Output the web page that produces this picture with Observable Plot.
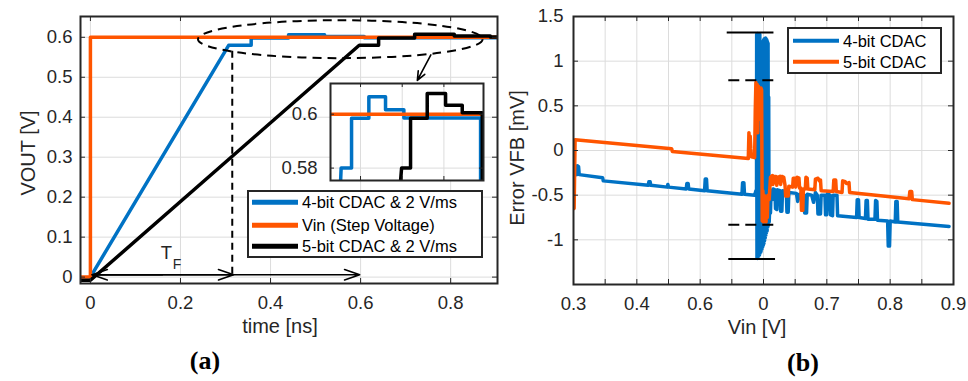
<!DOCTYPE html>
<html><head><meta charset="utf-8">
<script src="https://cdn.jsdelivr.net/npm/d3@7"></script>
<script src="https://cdn.jsdelivr.net/npm/@observablehq/plot@0.6"></script>
<style>
html,body{margin:0;padding:0;background:#fff;}
#root{position:relative;width:968px;height:381px;overflow:hidden;font-family:"Liberation Sans",Arial,sans-serif;color:#262626;background:#fff;}
.pl{position:absolute;}
.lbl{position:absolute;font-size:20px;white-space:nowrap;transform:translate(-50%,-50%);line-height:1;color:#262626;}
.rot{transform:translate(-50%,-50%) rotate(-90deg);}
.panel{position:absolute;font-family:"Liberation Serif","Times New Roman",serif;font-weight:bold;font-size:26px;transform:translate(-50%,-50%);line-height:1;color:#000;white-space:nowrap;}
.legend{position:absolute;background:#fff;border:2px solid #262626;box-sizing:border-box;}
.legend .sw{position:absolute;height:4.5px;transform:translateY(-50%);}
.legend .tx{position:absolute;font-size:16.5px;white-space:nowrap;line-height:1;transform:translateY(-50%);color:#000;}
</style></head><body><div id="root"></div>
<script>
// ---------- colours ----------
const BLUE = "#0072C4", ORANGE = "#FF5500", BLACK = "#000000", GRID = "#dcdcdc", AXIS = "#262626";

// ---------- panel (a) ----------
const aXTicks = [0, 0.2, 0.4, 0.6, 0.8];
const aXLabels = ["0", "0.2", "0.4", "0.6", "0.8"];
const aYTicks = [0, 0.1, 0.2, 0.3, 0.4, 0.5, 0.6];
const aYLabels = ["0", "0.1", "0.2", "0.3", "0.4", "0.5", "0.6"];

const blueT = [0, 0.307, 0.357, 0.357, 0.44, 0.44, 0.52, 0.52, 0.608, 0.608, 0.976, 0.976];
const blueV = [0, 0.58, 0.58, 0.5985, 0.5985, 0.6065, 0.6065, 0.6017, 0.6017, 0.5986, 0.5986, 0.55];
const vinT = [-0.022, 0, 0, 1.0];
const vinV = [0, 0, 0.6, 0.6];
const blackT = [-0.022, 0, 0.597, 0.64, 0.64, 0.72, 0.72, 0.808, 0.808, 0.888, 0.888, 0.984, 0.984];
const blackV = [-0.008, -0.008, 0.58, 0.58, 0.5985, 0.5985, 0.6077, 0.6077, 0.6033, 0.6033, 0.6005, 0.6005, 0.55];

const legendA = ["4-bit CDAC & 2 V/ms", "Vin (Step Voltage)", "5-bit CDAC & 2 V/ms"];

// annotations of panel (a)
const zoomEllipse = [{cx: 0.556, cy: 0.594, rx: 0.316, ry: 0.0475}];
const tfArrows = [
  {x1: 0.16, y1: 0.006, x2: 0.004, y2: 0.006},
  {x1: 0.004, y1: 0.006, x2: 0.318, y2: 0.006},
  {x1: 0.004, y1: 0.006, x2: 0.598, y2: 0.006}
];
const zoomArrow = [{x1: 0.756, y1: 0.556, x2: 0.726, y2: 0.492}];
const tfMarker = [{x: 0.315, y1: 0.565, y2: 0.005}];

// inset of panel (a)
const insetXTicks = [0.4, 0.6, 0.8];
const insetYTicks = [0.58, 0.6];
const insetYLabels = ["0.58", "0.6"];

// ---------- panel (b) ----------
const bXTicks = [0.3, 0.35, 0.4, 0.45, 0.5, 0.55, 0.6, 0.65, 0.7, 0.75, 0.8, 0.85, 0.9];
const bXLabelVals = [0.3, 0.4, 0.5, 0.6, 0.7, 0.8, 0.9];
const bXLabels = ["0.3", "0.4", "0.6", "0", "0.7", "0.8", "0.9"];
const bYTicks = [-1.5, -1, -0.5, 0, 0.5, 1, 1.5];
const bYLabelVals = [-1, -0.5, 0, 0.5, 1, 1.5];
const bYLabels = ["-1", "-0.5", "0", "0.5", "1", "1.5"];

const cdac4 = [
  [0.300,-0.26],[0.305,-0.27],[0.306,-0.17],[0.308,-0.18],[0.309,-0.27],[0.346,-0.305],[0.347,-0.34],
  [0.418,-0.39],[0.419,-0.35],[0.421,-0.35],[0.422,-0.39],[0.448,-0.41],[0.449,-0.38],[0.450,-0.41],
  [0.478,-0.43],[0.479,-0.37],[0.481,-0.37],[0.482,-0.43],[0.507,-0.45],[0.508,-0.32],[0.510,-0.32],
  [0.511,-0.45],[0.566,-0.49],[0.567,-0.36],[0.569,-0.36],[0.570,-0.49],[0.586,-0.50],[0.588,-0.45],
  [0.5890,-0.50],[0.5892,1.30],[0.5897,-1.20],[0.5902,1.31],[0.5907,-1.21],[0.5912,1.28],[0.5917,-1.19],
  [0.5922,1.30],[0.5927,-1.18],[0.5932,1.29],[0.5937,-1.17],[0.5942,1.30],[0.5947,-1.15],[0.5952,1.22],
  [0.5957,-1.14],[0.5962,1.10],[0.5967,-1.12],[0.5972,1.05],[0.5977,-1.10],[0.5982,1.12],[0.5987,-1.08],
  [0.5992,1.20],[0.5997,-1.06],[0.6002,1.24],[0.6007,-1.04],[0.6012,1.25],[0.6017,-1.01],[0.6022,1.24],
  [0.6027,-0.98],[0.6032,1.26],[0.6037,-0.95],[0.6042,1.25],[0.6047,-0.92],[0.6052,1.24],[0.6057,-0.90],
  [0.6062,1.22],[0.6067,-0.86],[0.6072,1.20],[0.6077,-0.84],[0.6082,0.60],[0.6087,-0.80],[0.6090,-0.80],
  [0.610,-0.60],[0.611,-0.70],[0.612,-0.45],[0.614,-0.55],[0.615,-0.43],[0.618,-0.44],[0.619,-0.65],
  [0.621,-0.66],[0.622,-0.44],[0.626,-0.45],[0.627,-0.68],[0.629,-0.68],[0.630,-0.45],[0.636,-0.46],
  [0.637,-0.69],[0.639,-0.69],[0.640,-0.47],[0.652,-0.48],[0.654,-0.57],[0.657,-0.49],[0.664,-0.50],
  [0.665,-0.70],[0.668,-0.70],[0.669,-0.49],[0.676,-0.50],[0.679,-0.58],[0.682,-0.47],[0.685,-0.50],
  [0.686,-0.71],[0.690,-0.71],[0.691,-0.50],[0.697,-0.50],[0.698,-0.72],[0.700,-0.72],[0.701,-0.48],
  [0.705,-0.50],[0.706,-0.72],[0.709,-0.73],[0.710,-0.50],[0.716,-0.50],[0.717,-0.73],[0.747,-0.75],
  [0.748,-0.55],[0.750,-0.55],[0.751,-0.75],[0.761,-0.76],[0.762,-0.56],[0.764,-0.56],[0.765,-0.77],
  [0.776,-0.77],[0.777,-0.56],[0.779,-0.57],[0.780,-0.78],[0.796,-0.79],[0.797,-1.07],[0.799,-1.07],
  [0.800,-0.79],[0.808,-0.80],[0.809,-0.57],[0.811,-0.57],[0.812,-0.80],[0.893,-0.85]
];
const cdac5 = [
  [0.300,-0.62],[0.301,-0.65],[0.3025,0.12],[0.455,0.02],[0.456,-0.01],[0.576,-0.09],[0.577,0.20],
  [0.578,0.05],[0.579,0.16],[0.580,0.02],[0.581,-0.07],[0.586,-0.08],[0.587,0.45],[0.588,0.76],
  [0.589,0.30],[0.590,0.74],[0.591,0.20],[0.592,0.72],[0.593,0.50],[0.594,0.70],[0.595,0.35],
  [0.596,0.70],[0.597,0.68],[0.598,-0.79],[0.599,-0.45],[0.600,-0.80],[0.601,-0.50],[0.602,-0.78],
  [0.603,-0.55],[0.604,-0.80],[0.605,-0.52],[0.606,-0.75],[0.607,-0.50],[0.609,-0.55],[0.611,-0.30],
  [0.614,-0.28],[0.615,-0.38],[0.617,-0.29],[0.620,-0.29],[0.621,-0.39],[0.623,-0.30],[0.626,-0.29],
  [0.627,-0.38],[0.629,-0.29],[0.632,-0.30],[0.634,-0.39],[0.635,-0.51],[0.639,-0.51],[0.640,-0.40],
  [0.646,-0.41],[0.647,-0.31],[0.650,-0.31],[0.651,-0.41],[0.653,-0.30],[0.656,-0.31],[0.657,-0.42],
  [0.659,-0.42],[0.660,-0.67],[0.662,-0.67],[0.663,-0.43],[0.666,-0.43],[0.667,-0.30],[0.669,-0.31],
  [0.670,-0.43],[0.681,-0.44],[0.682,-0.32],[0.686,-0.31],[0.688,-0.34],[0.690,-0.33],[0.691,-0.45],
  [0.710,-0.46],[0.711,-0.33],[0.714,-0.33],[0.715,-0.46],[0.724,-0.47],[0.725,-0.34],[0.729,-0.35],
  [0.731,-0.37],[0.735,-0.36],[0.736,-0.47],[0.830,-0.54],[0.831,-0.46],[0.834,-0.46],[0.835,-0.55],
  [0.893,-0.59]
];
const legendB = ["4-bit CDAC", "5-bit CDAC"];
const errLines = [
  {y: 1.32, x1: 0.5427, x2: 0.6165, dashed: false},
  {y: 0.785, x1: 0.5452, x2: 0.619, dashed: true},
  {y: -0.83, x1: 0.5452, x2: 0.619, dashed: true},
  {y: -1.215, x1: 0.5452, x2: 0.619, dashed: false}
];

// ---------- helpers ----------
const rows = (t, v) => t.map((d, i) => ({t: d, v: v[i]}));
const pairs = (a) => a.map(([t, v]) => ({t, v}));
const fmt = (vals, labels) => { const m = new Map(vals.map((d, i) => [d, labels[i]])); return d => m.get(d); };
const FONT = "'Liberation Sans', Arial, sans-serif";
const baseStyle = {fontFamily: FONT, fontSize: "18.5px", color: AXIS, background: "transparent", overflow: "visible"};
const LW = 3.5;

function boxTicks(xt, yt, innerW, innerH, len) {
  return [
    Plot.tickX(xt, {x: d => d, insetTop: innerH - len, stroke: AXIS, strokeWidth: 1}),
    Plot.tickX(xt, {x: d => d, insetBottom: innerH - len, stroke: AXIS, strokeWidth: 1}),
    Plot.tickY(yt, {y: d => d, insetRight: innerW - len, stroke: AXIS, strokeWidth: 1}),
    Plot.tickY(yt, {y: d => d, insetLeft: innerW - len, stroke: AXIS, strokeWidth: 1})
  ];
}

const root = document.getElementById("root");
function place(node, left, top) { node.style.position = "absolute"; node.style.left = left + "px"; node.style.top = top + "px"; root.appendChild(node); }

// ---------- chart (a) ----------
const A = {width: 500, height: 330, ml: 80, mr: 3, mt: 16, mb: 47};
const aIW = A.width - A.ml - A.mr, aIH = A.height - A.mt - A.mb;
const ellipseMark = (index, scales) => {
  const g = d3.create("svg:g");
  zoomEllipse.forEach(e => {
    const cx = scales.x(e.cx), cy = scales.y(e.cy);
    g.append("ellipse").attr("cx", cx).attr("cy", cy)
      .attr("rx", Math.abs(scales.x(e.cx + e.rx) - cx))
      .attr("ry", Math.abs(scales.y(e.cy + e.ry) - cy))
      .attr("fill", "none").attr("stroke", BLACK).attr("stroke-width", 2).attr("stroke-dasharray", "9,6");
  });
  return g.node();
};
const chartA = Plot.plot({
  width: A.width, height: A.height,
  marginLeft: A.ml, marginRight: A.mr, marginTop: A.mt, marginBottom: A.mb,
  x: {domain: [-0.022, 0.904]},
  y: {domain: [-0.016, 0.652]},
  style: baseStyle,
  marks: [
    Plot.ruleX(aXTicks, {stroke: GRID, strokeWidth: 1}),
    Plot.ruleY(aYTicks, {stroke: GRID, strokeWidth: 1}),
    Plot.axisX(aXTicks, {tickSize: 0, tickPadding: 12, tickFormat: fmt(aXTicks, aXLabels), label: null, fill: AXIS}),
    Plot.axisY(aYTicks, {tickSize: 0, tickPadding: 8, tickFormat: fmt(aYTicks, aYLabels), label: null, fill: AXIS}),
    Plot.line(rows(blueT, blueV), {x: "t", y: "v", stroke: BLUE, strokeWidth: LW, clip: true}),
    Plot.line(rows(vinT, vinV), {x: "t", y: "v", stroke: ORANGE, strokeWidth: LW, clip: true}),
    Plot.line(rows(blackT, blackV), {x: "t", y: "v", stroke: BLACK, strokeWidth: LW, clip: true}),
    Plot.ruleX(tfMarker, {x: "x", y1: "y1", y2: "y2", stroke: BLACK, strokeWidth: 2, strokeDasharray: "7,5"}),
    Plot.arrow(tfArrows, {x1: "x1", y1: "y1", x2: "x2", y2: "y2", stroke: BLACK, strokeWidth: 1.6, headLength: 15, headAngle: 38}),
    ellipseMark,
    Plot.arrow(zoomArrow, {x1: "x1", y1: "y1", x2: "x2", y2: "y2", stroke: BLACK, strokeWidth: 1.6, headLength: 12, headAngle: 45}),
    ...boxTicks(aXTicks, aYTicks, aIW, aIH, 5),
    Plot.frame({stroke: AXIS, strokeWidth: 2})
  ]
});
place(chartA, 0, 0);

// inset
const I = {width: 220, height: 120, ml: 60, mr: 7, mt: 13, mb: 10};
const iIW = I.width - I.ml - I.mr, iIH = I.height - I.mt - I.mb;
const inset = Plot.plot({
  width: I.width, height: I.height,
  marginLeft: I.ml, marginRight: I.mr, marginTop: I.mt, marginBottom: I.mb,
  x: {domain: [0.256, 0.99], axis: null},
  y: {domain: [0.5754, 0.6114]},
  style: baseStyle,
  marks: [
    Plot.frame({fill: "white", stroke: "none"}),
    Plot.ruleX(insetXTicks, {stroke: GRID, strokeWidth: 1}),
    Plot.ruleY(insetYTicks, {stroke: GRID, strokeWidth: 1}),
    Plot.axisY(insetYTicks, {tickSize: 0, tickPadding: 13, tickFormat: fmt(insetYTicks, insetYLabels), label: null, fill: AXIS}),
    Plot.line(rows(blueT, blueV), {x: "t", y: "v", stroke: BLUE, strokeWidth: LW, clip: true}),
    Plot.line(rows(vinT, vinV), {x: "t", y: "v", stroke: ORANGE, strokeWidth: LW, clip: true}),
    Plot.line(rows(blackT, blackV), {x: "t", y: "v", stroke: BLACK, strokeWidth: LW, clip: true}),
    ...boxTicks(insetXTicks, insetYTicks, iIW, iIH, 4),
    Plot.frame({stroke: AXIS, strokeWidth: 2})
  ]
});
place(inset, 270, 70);

// ---------- chart (b) ----------
const B = {width: 468, height: 330, ml: 73, mr: 15, mt: 16, mb: 46};
const bIW = B.width - B.ml - B.mr, bIH = B.height - B.mt - B.mb;
const chartB = Plot.plot({
  width: B.width, height: B.height,
  marginLeft: B.ml, marginRight: B.mr, marginTop: B.mt, marginBottom: B.mb,
  x: {domain: [0.3, 0.9]},
  y: {domain: [-1.5, 1.5]},
  style: baseStyle,
  marks: [
    Plot.ruleX(bXTicks, {stroke: GRID, strokeWidth: 1}),
    Plot.ruleY(bYTicks, {stroke: GRID, strokeWidth: 1}),
    Plot.axisX(bXLabelVals, {tickSize: 0, tickPadding: 12, tickFormat: fmt(bXLabelVals, bXLabels), label: null, fill: AXIS}),
    Plot.axisY(bYLabelVals, {tickSize: 0, tickPadding: 10, tickFormat: fmt(bYLabelVals, bYLabels), label: null, fill: AXIS}),
    Plot.line(pairs(cdac4), {x: "t", y: "v", stroke: BLUE, strokeWidth: LW, clip: true}),
    Plot.line(pairs(cdac5), {x: "t", y: "v", stroke: ORANGE, strokeWidth: LW, clip: true}),
    Plot.ruleY(errLines.filter(d => !d.dashed), {y: "y", x1: "x1", x2: "x2", stroke: BLACK, strokeWidth: 2}),
    Plot.ruleY(errLines.filter(d => d.dashed), {y: "y", x1: "x1", x2: "x2", stroke: BLACK, strokeWidth: 2, strokeDasharray: "11,6"}),
    ...boxTicks(bXTicks, bYTicks, bIW, bIH, 5),
    Plot.frame({stroke: AXIS, strokeWidth: 2})
  ]
});
place(chartB, 500, 0);

// ---------- text overlays ----------
function label(text, x, y, cls) {
  const d = document.createElement("div");
  d.className = cls; d.textContent = text;
  d.style.left = x + "px"; d.style.top = y + "px";
  root.appendChild(d); return d;
}
label("VOUT [V]", 28, 153, "lbl rot");
label("time [ns]", 280, 326, "lbl");
label("(a)", 205, 361, "panel");
label("Error VFB [mV]", 517, 158, "lbl rot");
label("Vin [V]", 757, 327, "lbl");
label("(b)", 803, 363, "panel");
// T_F
const tf = label("T", 166.5, 253, "lbl"); tf.style.fontSize = "18.5px";
const tfs = label("F", 177, 264, "lbl"); tfs.style.fontSize = "14px";

// legends
function legend(entries, colors, left, top, w, h, swLeft, txLeft, rowsY) {
  const box = document.createElement("div");
  box.className = "legend";
  Object.assign(box.style, {left: left + "px", top: top + "px", width: w + "px", height: h + "px"});
  entries.forEach((e, i) => {
    const sw = document.createElement("div"); sw.className = "sw";
    Object.assign(sw.style, {left: swLeft + "px", top: rowsY[i] + "px", width: "46px", background: colors[i]});
    const tx = document.createElement("div"); tx.className = "tx"; tx.textContent = e;
    Object.assign(tx.style, {left: txLeft + "px", top: rowsY[i] + "px"});
    box.appendChild(sw); box.appendChild(tx);
  });
  root.appendChild(box);
}
legend(legendA, [BLUE, ORANGE, BLACK], 247, 190, 236, 68, 3, 53, [10, 33, 54]);
legend(legendB, [BLUE, ORANGE], 787, 27, 155, 47, 4, 54, [11.5, 32.5]);
</script></body></html>
